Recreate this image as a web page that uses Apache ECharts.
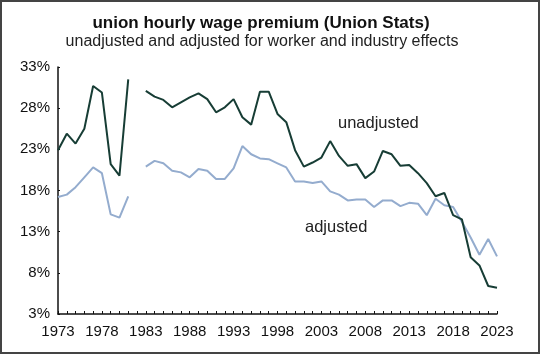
<!DOCTYPE html>
<html>
<head>
<meta charset="utf-8">
<script src="https://cdn.jsdelivr.net/npm/echarts@6/dist/echarts.min.js"></script>
<style>
  html, body { margin: 0; padding: 0; background: #fff; }
  #chart { width: 540px; height: 354px; }
  #frame { position: absolute; left: 0; top: 0; width: 540px; height: 354px;
           box-sizing: border-box; border: 2px solid #444; pointer-events: none; }
</style>
</head>
<body>
<div id="chart"></div>
<div id="frame"></div>
<script>
// --- Datos ---
const years = [];
for (let y = 1973; y <= 2023; y++) years.push(String(y));

// 1982 sin datos (hueco en la serie)
const unadjusted = [
  22.9, 24.9, 23.7, 25.5, 30.7, 29.9, 21.2, 19.8, 31.5, null,
  30.1, 29.4, 29.0, 28.1, 28.7, 29.3, 29.8, 29.1, 27.5, 28.1,
  29.1, 26.9, 26.0, 30.0, 30.0, 27.3, 26.3, 22.9, 20.9, 21.4,
  22.0, 24.0, 22.2, 21.0, 21.2, 19.5, 20.3, 22.8, 22.4, 21.0,
  21.1, 20.1, 18.9, 17.3, 17.7, 15.0, 14.5, 9.9, 8.9, 6.4,
  6.2
];
const adjusted = [
  17.2, 17.5, 18.4, 19.6, 20.8, 20.1, 15.1, 14.7, 17.3, null,
  20.9, 21.6, 21.3, 20.4, 20.2, 19.6, 20.6, 20.4, 19.4, 19.4,
  20.7, 23.4, 22.4, 21.9, 21.8, 21.3, 20.8, 19.1, 19.1, 18.9,
  19.1, 17.9, 17.5, 16.8, 16.9, 16.9, 16.0, 16.8, 16.8, 16.1,
  16.5, 16.4, 15.0, 17.0, 16.2, 16.0, 14.2, 12.3, 10.2, 12.1,
  10.0
];

const titleText = 'union hourly wage premium (Union Stats)';
const subtitleText = 'unadjusted and adjusted for worker and industry effects';

const darkColor = '#173d35';
const lightColor = '#94acce';
const font = 'Liberation Sans, Arial, sans-serif';

const chart = echarts.init(document.getElementById('chart'));
chart.setOption({
  animation: false,
  backgroundColor: '#fff',
  grid: { left: 58, right: 43, top: 67, bottom: 40 },
  xAxis: {
    type: 'category',
    data: years,
    boundaryGap: false,
    axisLine: { lineStyle: { color: '#111', width: 1.5 } },
    axisTick: { show: true, inside: true, length: 3, interval: 0, lineStyle: { color: '#111' } },
    axisLabel: { interval: 4, color: '#111', fontFamily: font, fontSize: 15, margin: 10 },
    splitLine: { show: false }
  },
  yAxis: {
    type: 'value',
    min: 3,
    max: 33,
    interval: 5,
    axisLine: { show: true, lineStyle: { color: '#111', width: 1.5 } },
    axisTick: { show: true, inside: true, length: 2, lineStyle: { color: '#111' } },
    axisLabel: { formatter: '{value}%', color: '#111', fontFamily: font, fontSize: 15, margin: 8 },
    splitLine: { show: false }
  },
  series: [
    {
      name: 'unadjusted',
      type: 'line',
      data: unadjusted,
      showSymbol: false,
      lineStyle: { color: darkColor, width: 2 },
      itemStyle: { color: darkColor },
      z: 3
    },
    {
      name: 'adjusted',
      type: 'line',
      data: adjusted,
      showSymbol: false,
      lineStyle: { color: lightColor, width: 2 },
      itemStyle: { color: lightColor },
      z: 2
    }
  ],
  graphic: [
    // título y subtítulo (centrados un poco a la izquierda, como en la figura)
    { type: 'text', x: 261, y: 23,
      style: { text: titleText, font: 'bold 17px ' + font, fill: '#111',
               align: 'center', verticalAlign: 'middle' } },
    { type: 'text', x: 262, y: 41.5,
      style: { text: subtitleText, font: '16px ' + font, fill: '#222',
               align: 'center', verticalAlign: 'middle' } },
    // etiquetas de las series
    { type: 'text', left: 338, top: 115,
      style: { text: 'unadjusted', font: '16.5px ' + font, fill: '#222' } },
    { type: 'text', left: 305, top: 219,
      style: { text: 'adjusted', font: '16.5px ' + font, fill: '#222' } }
  ]
});
</script>
</body>
</html>
